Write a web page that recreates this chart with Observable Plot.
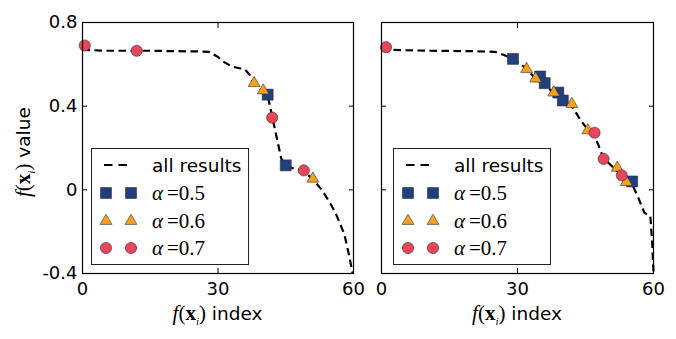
<!DOCTYPE html>
<html>
<head>
<meta charset="utf-8">
<script src="https://cdn.jsdelivr.net/npm/d3@7"></script>
<script src="https://cdn.jsdelivr.net/npm/@observablehq/plot@0.6"></script>
<style>
  body { margin: 0; background: #fff; }
  #root { position: relative; width: 676px; height: 339px; background: #fff; overflow: hidden; font-family: "DejaVu Sans", sans-serif; }
  .panel { position: absolute; top: 0; }
  .math { font-family: "Liberation Serif", "DejaVu Serif", serif; font-size: 21px; }
  .xlab { position: absolute; width: 200px; text-align: center; font-size: 18.5px; line-height: 22px; white-space: nowrap; }
  .ylab { position: absolute; width: 200px; text-align: center; font-size: 18.5px; line-height: 22px; white-space: nowrap; transform: rotate(-90deg); transform-origin: center center; }
  .legend { position: absolute; width: 158px; height: 117px; border: 1px solid #222; background: #fff; box-sizing: border-box; }
  .legend svg { position: absolute; left: 0; top: 0; overflow: visible; }
</style>
</head>
<body>
<div id="root"></div>
<script>
// ---- tick values / labels ----
const xTicks = [0, 30, 60];
const yTicks = [-0.4, 0, 0.4, 0.8];
const yTickLabels = ["-0.4", "0", "0.4", "0.8"];

// ---- colours / series names ----
const seriesAlpha = ["0.5", "0.6", "0.7"];
const seriesColors = ["#213f7d", "#f5a020", "#e8465a"];
const seriesSymbols = ["square", "triangle", "circle"];

// ---- left panel: all results curve ----
const leftLineX = [0, 5, 10, 15, 20, 25, 28, 30, 31, 33, 35, 36, 37, 38, 40, 41, 42, 43, 44, 45, 47, 49, 51, 53, 55, 56, 57, 58, 59, 59.8];
const leftLineY = [0.67, 0.665, 0.665, 0.665, 0.663, 0.662, 0.66, 0.635, 0.615, 0.59, 0.58, 0.575, 0.55, 0.51, 0.47, 0.45, 0.35, 0.25, 0.15, 0.115, 0.10, 0.09, 0.05, 0.0, -0.07, -0.11, -0.16, -0.215, -0.31, -0.40];
// left panel markers
const leftA5X = [41, 45];
const leftA5Y = [0.455, 0.117];
const leftA6X = [38, 40, 51];
const leftA6Y = [0.51, 0.475, 0.053];
const leftA7X = [0.5, 12, 42, 49];
const leftA7Y = [0.69, 0.665, 0.345, 0.093];

// ---- right panel: all results curve ----
const rightLineX = [0, 10, 20, 25, 27, 29, 32, 34, 36, 38, 40, 42, 44, 46, 47, 49, 51, 53, 55, 56.5, 58, 59.3, 59.7, 60];
const rightLineY = [0.67, 0.665, 0.663, 0.66, 0.645, 0.625, 0.58, 0.53, 0.50, 0.465, 0.43, 0.40, 0.33, 0.275, 0.26, 0.15, 0.11, 0.07, 0.04, -0.03, -0.11, -0.125, -0.25, -0.39];
// right panel markers
const rightA5X = [29, 35, 36, 39, 40, 55.3];
const rightA5Y = [0.626, 0.542, 0.51, 0.465, 0.427, 0.04];
const rightA6X = [32, 34, 38, 42, 45.5, 52, 54];
const rightA6Y = [0.577, 0.532, 0.465, 0.41, 0.284, 0.105, 0.037];
const rightA7X = [1, 47, 49, 53];
const rightA7Y = [0.682, 0.273, 0.148, 0.069];

const zip = (xs, ys) => xs.map((x, i) => ({x, y: ys[i]}));
const dotR = {square: 6.2, triangle: 4.4, circle: 5.6};

function panel({lineX, lineY, groups, showYLabels, width, marginLeft, marginRight}) {
  const marks = [
    Plot.axisX(xTicks, {anchor: "bottom", tickSize: 0, tickPadding: 9, label: null, fontSize: 18, tickFormat: d => String(d)}),
    Plot.axisX(xTicks, {anchor: "bottom", tickSize: -5, label: null, tickFormat: () => ""}),
    Plot.axisX(xTicks, {anchor: "top", tickSize: -5, label: null, tickFormat: () => ""}),
    Plot.axisY(yTicks, {anchor: "left", tickSize: 0, tickPadding: 5, label: null, fontSize: 18,
      tickFormat: showYLabels ? (d => yTickLabels[yTicks.indexOf(d)]) : (() => "")}),
    Plot.axisY(yTicks, {anchor: "left", tickSize: -5, label: null, tickFormat: () => ""}),
    Plot.axisY(yTicks, {anchor: "right", tickSize: -5, label: null, tickFormat: () => ""}),
    Plot.line(zip(lineX, lineY), {x: "x", y: "y", stroke: "#000", strokeWidth: 2.2, strokeDasharray: "7.5,4.5", strokeLinecap: "butt"}),
  ];
  groups.forEach((g, i) => {
    marks.push(Plot.dot(zip(g[0], g[1]), {
      x: "x", y: "y", symbol: seriesSymbols[i], r: dotR[seriesSymbols[i]],
      fill: seriesColors[i], stroke: "#333", strokeWidth: 0.6
    }));
  });
  marks.push(Plot.frame({stroke: "#000", strokeWidth: 1.2}));
  return Plot.plot({
    width, height: 339,
    marginLeft, marginRight, marginTop: 22, marginBottom: 66,
    x: {domain: [0, 60]},
    y: {domain: [-0.4, 0.8]},
    style: {fontFamily: "DejaVu Sans, sans-serif", fontSize: "18px", overflow: "visible", background: "transparent", color: "#000"},
    marks
  });
}

const root = document.getElementById("root");

const leftDiv = document.createElement("div");
leftDiv.className = "panel"; leftDiv.style.left = "0px";
leftDiv.appendChild(panel({lineX: leftLineX, lineY: leftLineY,
  groups: [[leftA5X, leftA5Y], [leftA6X, leftA6Y], [leftA7X, leftA7Y]],
  showYLabels: true, width: 360, marginLeft: 82, marginRight: 7}));
root.appendChild(leftDiv);

const rightDiv = document.createElement("div");
rightDiv.className = "panel"; rightDiv.style.left = "360px";
rightDiv.appendChild(panel({lineX: rightLineX, lineY: rightLineY,
  groups: [[rightA5X, rightA5Y], [rightA6X, rightA6Y], [rightA7X, rightA7Y]],
  showYLabels: false, width: 316, marginLeft: 21, marginRight: 23}));
root.appendChild(rightDiv);

// axis labels
const fx = '<span class="math"><i>f</i>(<b>x</b><sub style="font-size:11px"><i>i</i></sub>)</span>';
[217.5, 517].forEach(cx => {
  const d = document.createElement("div");
  d.className = "xlab";
  d.style.left = (cx - 100) + "px";
  d.style.top = "302px";
  d.innerHTML = fx + " index";
  root.appendChild(d);
});
const yl = document.createElement("div");
yl.className = "ylab";
yl.style.left = (27 - 100) + "px";
yl.style.top = (148 - 11) + "px";
yl.innerHTML = fx + " value";
root.appendChild(yl);

// legends
function legend(left, top) {
  const box = document.createElement("div");
  box.className = "legend";
  box.style.left = left + "px";
  box.style.top = top + "px";
  const svg = d3.create("svg").attr("width", 158).attr("height", 117);
  const rowY = [16, 44, 72, 99];
  svg.append("line").attr("x1", 12).attr("x2", 35).attr("y1", rowY[0]).attr("y2", rowY[0])
    .attr("stroke", "#000").attr("stroke-width", 2.2).attr("stroke-dasharray", "8.5,6");
  svg.append("text").attr("x", 60).attr("y", rowY[0] + 6.5).attr("font-family", "DejaVu Sans, sans-serif")
    .attr("font-size", 18.5).text("all results");
  seriesAlpha.forEach((a, i) => {
    const sym = {square: d3.symbolSquare, triangle: d3.symbolTriangle, circle: d3.symbolCircle}[seriesSymbols[i]];
    const r = dotR[seriesSymbols[i]];
    const path = d3.symbol(sym, Math.PI * r * r)();
    [14, 39].forEach(x => {
      svg.append("path").attr("d", path).attr("transform", `translate(${x},${rowY[i + 1]})`)
        .attr("fill", seriesColors[i]).attr("stroke", "#333").attr("stroke-width", 0.6);
    });
    const t = svg.append("text").attr("x", 60).attr("y", rowY[i + 1] + 7)
      .attr("font-family", "Liberation Serif, DejaVu Serif, serif").attr("font-size", 21);
    t.append("tspan").attr("font-style", "italic").text("α");
    t.append("tspan").attr("dx", 4).text("=" + a);
  });
  box.appendChild(svg.node());
  root.appendChild(box);
}
legend(91, 148);
legend(393, 148);
</script>
</body>
</html>
